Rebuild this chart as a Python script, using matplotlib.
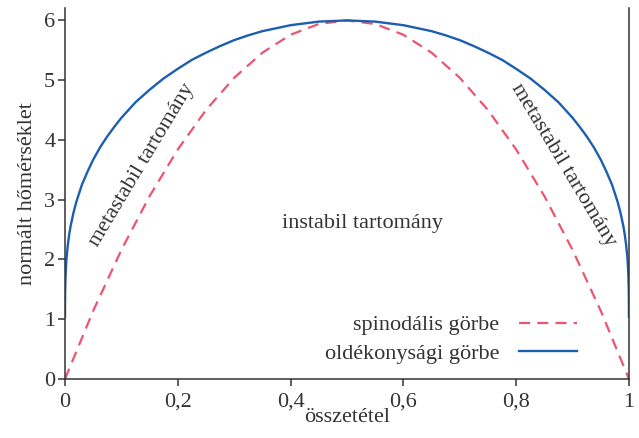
import matplotlib.pyplot as plt

plt.rcParams['font.family'] = ['Liberation Serif', 'DejaVu Serif']

# spinodális görbe
x_spin = [0, 0.05, 0.1, 0.15, 0.2, 0.25, 0.3, 0.35, 0.4, 0.45, 0.5,
          0.55, 0.6, 0.65, 0.7, 0.75, 0.8, 0.85, 0.9, 0.95, 1]
t_spin = [0, 1.14, 2.16, 3.06, 3.84, 4.5, 5.04, 5.46, 5.76, 5.94, 6.0,
          5.94, 5.76, 5.46, 5.04, 4.5, 3.84, 3.06, 2.16, 1.14, 0]

# oldékonysági görbe
x_bin = [0.00001, 0.0001, 0.0003, 0.001, 0.002, 0.003, 0.005, 0.0075, 0.01, 0.015,
         0.02, 0.03, 0.04, 0.05, 0.0625, 0.075, 0.0875, 0.1, 0.125, 0.15,
         0.175, 0.2, 0.225, 0.25, 0.275, 0.3, 0.325, 0.35, 0.375, 0.4, 0.45, 0.5,
         0.55, 0.6, 0.625, 0.65, 0.675, 0.7, 0.725, 0.75, 0.775, 0.8,
         0.825, 0.85, 0.875, 0.9, 0.9125, 0.925, 0.9375, 0.95, 0.96, 0.97,
         0.98, 0.985, 0.99, 0.9925, 0.995, 0.997, 0.998, 0.999, 0.9997, 0.9999, 0.99999]
t_bin = [1.04, 1.30, 1.48, 1.73, 1.92, 2.05, 2.24, 2.42, 2.56, 2.78,
         2.96, 3.25, 3.47, 3.67, 3.88, 4.06, 4.22, 4.37, 4.63, 4.84,
         5.03, 5.19, 5.34, 5.46, 5.57, 5.67, 5.75, 5.82, 5.87, 5.92, 5.98, 6.0,
         5.98, 5.92, 5.87, 5.82, 5.75, 5.67, 5.57, 5.46, 5.34, 5.19,
         5.03, 4.84, 4.63, 4.37, 4.22, 4.06, 3.88, 3.67, 3.47, 3.25,
         2.96, 2.78, 2.56, 2.42, 2.24, 2.05, 1.92, 1.73, 1.48, 1.30, 1.04]

xticks = [0, 0.2, 0.4, 0.6, 0.8, 1]
xticklabels = ["0", "0,2", "0,4", "0,6", "0,8", "1"]
yticks = [0, 1, 2, 3, 4, 5, 6]

red = "#ee5470"
blue = "#1c5fb0"
gray = "#333333"
fs = 16

fig = plt.figure(figsize=(6.39, 4.38), dpi=100)
ax = fig.add_axes([0.1017, 0.1347, 0.8826, 0.846])

ax.plot(x_spin, t_spin, color=red, lw=1.6, dashes=(5, 3.2), label="spinodális görbe")
ax.plot(x_bin, t_bin, color=blue, lw=1.7, label="oldékonysági görbe")

ax.set_xlim(0, 1)
ax.set_ylim(0, 6.2)
ax.set_xticks(xticks)
ax.set_xticklabels(xticklabels)
ax.set_yticks(yticks)
ax.tick_params(direction='out', length=5, width=1.1, color=gray, labelcolor=gray, labelsize=fs)
ax.tick_params(axis='x', pad=5)
ax.tick_params(axis='y', pad=2)

ax.spines['top'].set_visible(False)
for s in ['left', 'bottom', 'right']:
    ax.spines[s].set_color(gray)
    ax.spines[s].set_linewidth(1.1)

ax.set_xlabel("összetétel", fontsize=fs, color=gray, labelpad=-3)
ax.set_ylabel("normált hőmérséklet", fontsize=fs, color=gray, labelpad=5)

ax.text(0.1365, 3.58, "metastabil tartomány", rotation=59, fontsize=fs, color=gray,
        ha='center', va='center', rotation_mode='anchor')
ax.text(0.883, 3.58, "metastabil tartomány", rotation=-59, fontsize=fs, color=gray,
        ha='center', va='center', rotation_mode='anchor')
ax.text(0.527, 2.6, "instabil tartomány", fontsize=fs, color=gray, ha='center', va='center')

leg = ax.legend(loc='lower right', bbox_to_anchor=(0.924, 0.017), frameon=False,
                markerfirst=False, fontsize=fs, handlelength=2.6, handletextpad=0.9,
                labelspacing=0.35, borderaxespad=0)
for t in leg.get_texts():
    t.set_color(gray)

fig.savefig("out.png", dpi=100)
